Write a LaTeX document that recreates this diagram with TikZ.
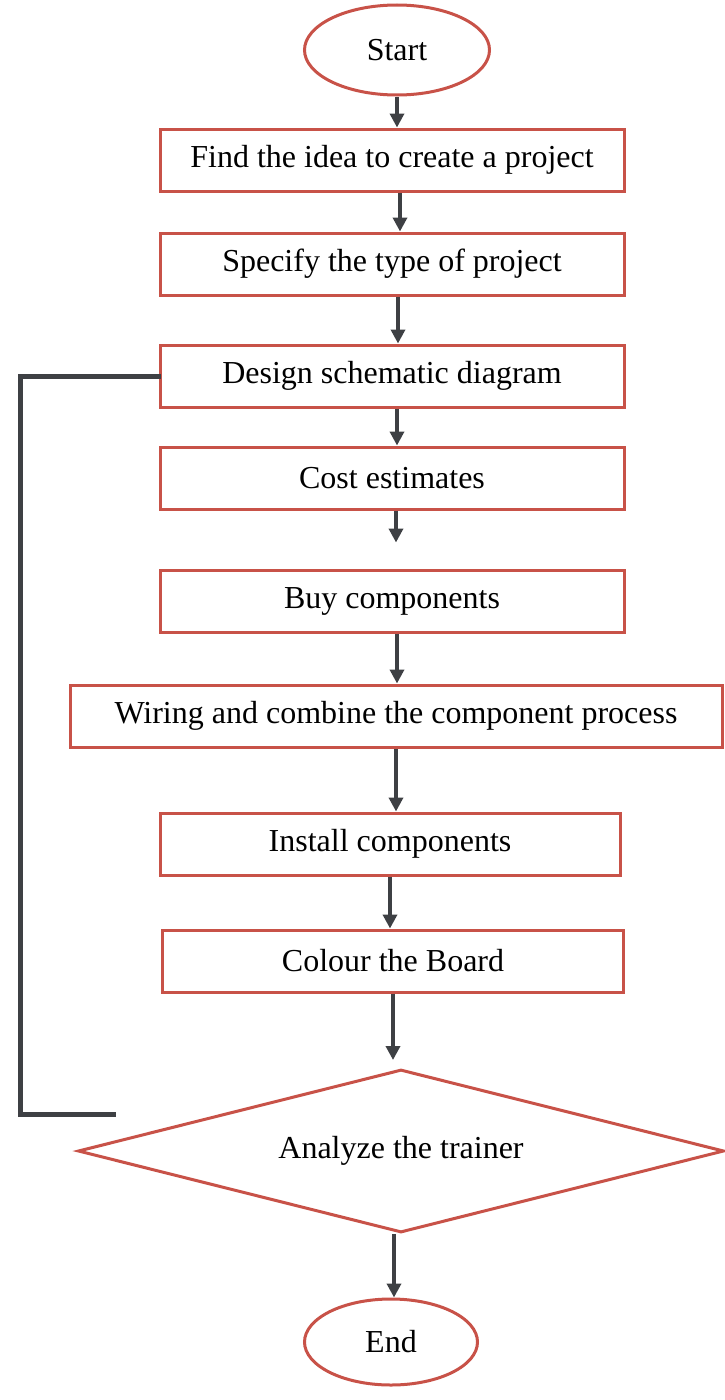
\documentclass[tikz,border=0pt]{standalone}
\usepackage{fontspec}
\setmainfont{Liberation Serif}
\usetikzlibrary{arrows.meta,shapes.geometric}
\definecolor{boxred}{RGB}{200,82,72}
\definecolor{flowgray}{RGB}{62,64,68}

\tikzset{
  box/.style={draw=boxred, line width=3pt, minimum height=62pt, inner sep=0pt},
  terminal/.style={ellipse, draw=boxred, line width=3pt, inner sep=0pt},
  decision/.style={diamond, aspect=4, draw=boxred, line width=3pt, inner sep=0pt,
    minimum width=646pt, minimum height=163pt},
  flow/.style={draw=flowgray, line width=4pt, -{Triangle[length=14pt,width=14pt]}},
  loopline/.style={draw=flowgray, line width=5pt, line cap=rect}
}

\begin{document}
\begin{tikzpicture}[x=1pt, y=-1pt, font=\fontsize{32}{36}\selectfont]
			%%%%% START %%%%%
			\useasboundingbox (0,0) rectangle (724,1400);
			
			\node[terminal, minimum width=185pt, minimum height=90pt] (start) at (397,50) {Start};
			
			\node[box, minimum width=464pt] (idea) at (392,160) {Find the idea to create a project};
			\node[box, minimum width=464pt] (type) at (392,264) {Specify the type of project};
			\node[box, minimum width=464pt] (design) at (392,376) {Design schematic diagram};
			\node[box, minimum width=464pt] (cost) at (392,478) {Cost estimates};
			\node[box, minimum width=464pt] (buy) at (392,601) {Buy components};
			\node[box, minimum width=652pt] (wiring) at (396,716) {Wiring and combine the component process};
			\node[box, minimum width=460pt] (install) at (390,844) {Install components};
			\node[box, minimum width=461pt] (colour) at (393,961) {Colour the Board};
			
			\node[decision] (analyze) at (401,1151) {Analyze the trainer};
			
			\node[terminal, minimum width=173pt, minimum height=86pt] (end) at (391,1342) {End};
			
			\draw[flow] (start.south) -- (start.south |- idea.north);
			\draw[flow] ([xshift=8pt]idea.south) -- ([xshift=8pt]idea.south |- type.north);
			\draw[flow] ([xshift=6pt]type.south) -- ([xshift=6pt]type.south |- design.north);
			\draw[flow] ([xshift=5pt]design.south) -- ([xshift=5pt]design.south |- cost.north);
			\draw[flow, shorten >=26pt] ([xshift=4pt]cost.south) -- ([xshift=4pt]cost.south |- buy.north);
			\draw[flow] ([xshift=5pt]buy.south) -- ([xshift=5pt]buy.south |- wiring.north);
			\draw[flow] (wiring.south) -- (wiring.south |- install.north);
			\draw[flow] (install.south) -- (install.south |- colour.north);
			\draw[flow, shorten >=8pt] (colour.south) -- (colour.south |- analyze.north);
			\draw[flow] ([xshift=-7pt]analyze.south) -- ([xshift=-7pt]analyze.south |- end.north);
			
			% feedback line
			\coordinate (loopend) at (113,1114);
			\draw[loopline] (design.west) -| (20,376) |- (loopend);
			
			%%%%% END %%%%%
		\end{tikzpicture}
\end{document}
